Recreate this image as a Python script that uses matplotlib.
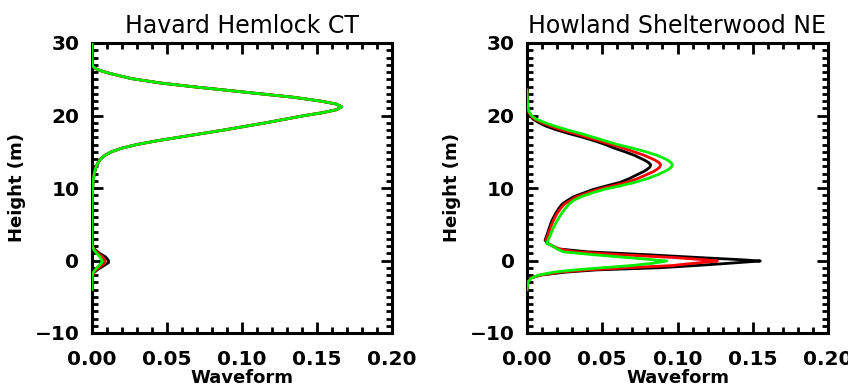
import matplotlib.pyplot as plt
from matplotlib.ticker import MultipleLocator, FormatStrFormatter

# Left panel: Havard Hemlock CT  (height in m, waveform value)
left_height = [30, 28, 27, 26.7, 26.4, 26.1, 25.8, 25.5, 25.1, 24.5, 24, 23.5, 23, 22.5,
               22, 21.6, 21.2, 20.8, 20.4, 20, 19.5, 19, 18.5, 18, 17.5, 17, 16.5, 16,
               15.5, 15, 14.5, 14, 13.5, 13, 12, 11, 10, 8, 6, 4, 2.5, 2, 1.5, 1, 0.5,
               0, -0.3, -0.7, -1.2, -1.7, -2.2, -3, -4]
left_main = [0, 0, 0.0002, 0.001, 0.003, 0.007, 0.012, 0.018, 0.026, 0.045, 0.066, 0.089,
             0.112, 0.135, 0.152, 0.1625, 0.1665, 0.163, 0.154, 0.142, 0.129, 0.116, 0.102,
             0.088, 0.073, 0.058, 0.043, 0.030, 0.020, 0.013, 0.0085, 0.0058, 0.004, 0.0028,
             0.0015, 0.0008, 0.0004, 0.0001, 0, 0]
# ground return near 0 m, from 2.5 m down to -4 m
left_black = left_main + [0, 0.0003, 0.002, 0.005, 0.009, 0.011, 0.011, 0.008, 0.004,
                          0.0012, 0.0003, 0, 0]
left_red = left_main + [0, 0.0002, 0.0016, 0.004, 0.007, 0.0087, 0.0087, 0.0063, 0.0032,
                        0.001, 0.0002, 0, 0]
left_green = left_main + [0, 0.0002, 0.0012, 0.003, 0.0053, 0.0065, 0.0065, 0.0047, 0.0024,
                          0.0007, 0.0002, 0, 0]

# Right panel: Howland Shelterwood NE
right_height = [23.5, 22, 21, 20.5, 20, 19.5, 19, 18.5, 18, 17.5, 17, 16.5, 16, 15.5, 15,
                14.5, 14, 13.8, 13.5, 13.2, 12.9, 12.6, 12.3, 11.8, 11.3, 10.8, 10.3, 9.8,
                9.3, 8.8, 8.3, 7.8, 7.3, 6.5, 5.5, 4.5, 3.5, 2.8, 2.4, 2.0, 1.6, 1.2, 0.8,
                0.4, 0.1, -0.07, -0.4, -0.7, -1.0, -1.3, -1.6, -2.0, -2.4, -3.0, -4.0]
right_black = [0, 0, 0.0003, 0.0008, 0.002, 0.004, 0.008, 0.013, 0.020, 0.028, 0.037, 0.045,
               0.052, 0.058, 0.065, 0.0715, 0.0765, 0.0785, 0.0808, 0.0822, 0.0817, 0.0800,
               0.0778, 0.0728, 0.0680, 0.0622, 0.053, 0.044, 0.0375, 0.031, 0.027, 0.0235,
               0.0215, 0.019, 0.0165, 0.0148, 0.0132, 0.012, 0.0135, 0.017, 0.021, 0.040,
               0.080, 0.115, 0.143, 0.155, 0.133, 0.112, 0.088, 0.046, 0.026, 0.0095, 0.0025,
               0.0005, 0]
right_red = [0, 0, 0.0003, 0.001, 0.0025, 0.005, 0.010, 0.016, 0.023, 0.032, 0.040, 0.048,
             0.056, 0.064, 0.071, 0.078, 0.0835, 0.0855, 0.0877, 0.0888, 0.0883, 0.0866,
             0.0843, 0.0790, 0.0735, 0.0668, 0.057, 0.047, 0.040, 0.033, 0.029, 0.025, 0.0228,
             0.020, 0.0175, 0.0155, 0.0138, 0.0125, 0.0135, 0.017, 0.021, 0.032, 0.062, 0.098,
             0.118, 0.1265, 0.110, 0.096, 0.066, 0.040, 0.022, 0.009, 0.0028, 0.0005, 0]
right_green = [0, 0.0003, 0.0008, 0.0015, 0.003, 0.006, 0.012, 0.019, 0.027, 0.036, 0.044,
               0.052, 0.060, 0.070, 0.079, 0.0865, 0.0920, 0.0938, 0.0957, 0.0966, 0.0960,
               0.0942, 0.0917, 0.0865, 0.0800, 0.0720, 0.062, 0.051, 0.043, 0.036, 0.031,
               0.028, 0.026, 0.023, 0.020, 0.0175, 0.0155, 0.014, 0.013, 0.017, 0.020, 0.024,
               0.044, 0.067, 0.084, 0.0928, 0.083, 0.069, 0.050, 0.032, 0.018, 0.008, 0.003,
               0.0006, 0]

titles = ["Havard Hemlock CT", "Howland Shelterwood NE"]
x_ticks = [0.00, 0.05, 0.10, 0.15, 0.20]
y_ticks = [-10, 0, 10, 20, 30]

W, H = 848, 391
fig = plt.figure(figsize=(W / 100, H / 100), dpi=100)

# axes boxes measured in pixels from the picture: left, bottom, width, height
boxes = [(92, 58, 300, 290), (527, 58, 301, 290)]
panels = [(left_height, left_black, left_red, left_green),
          (right_height, right_black, right_red, right_green)]

for box, (h, bk, rd, gr), title in zip(boxes, panels, titles):
    ax = fig.add_axes([box[0] / W, box[1] / H, box[2] / W, box[3] / H])
    # black first, then red, green ends up on top (lines sit over the frame like IDL)
    ax.plot(bk, h, color="black", lw=2, zorder=3)
    ax.plot(rd, h, color="red", lw=2, zorder=3)
    ax.plot(gr, h, color="#00ee00", lw=2, zorder=3)

    ax.set_xlim(0, 0.2)
    ax.set_ylim(-10, 30)
    ax.set_xticks(x_ticks)
    ax.set_yticks(y_ticks)
    ax.xaxis.set_minor_locator(MultipleLocator(0.01))
    ax.yaxis.set_minor_locator(MultipleLocator(1))
    ax.xaxis.set_major_formatter(FormatStrFormatter("%.2f"))
    ax.tick_params(which="both", direction="in", top=True, right=True, width=2)
    ax.tick_params(which="major", length=8, labelsize=14.5, pad=9)
    ax.tick_params(axis="x", which="major", pad=12)
    ax.tick_params(which="minor", length=4)
    for lab in ax.get_xticklabels() + ax.get_yticklabels():
        lab.set_fontweight("bold")
    for sp in ax.spines.values():
        sp.set_linewidth(2.2)

    ax.set_title(title, fontsize=17, pad=7)
    ax.set_xlabel("Waveform", fontsize=13, fontweight="bold", labelpad=0)
    ax.set_ylabel("Height (m)", fontsize=13, fontweight="bold", labelpad=6)

fig.savefig("out.png", dpi=100)
